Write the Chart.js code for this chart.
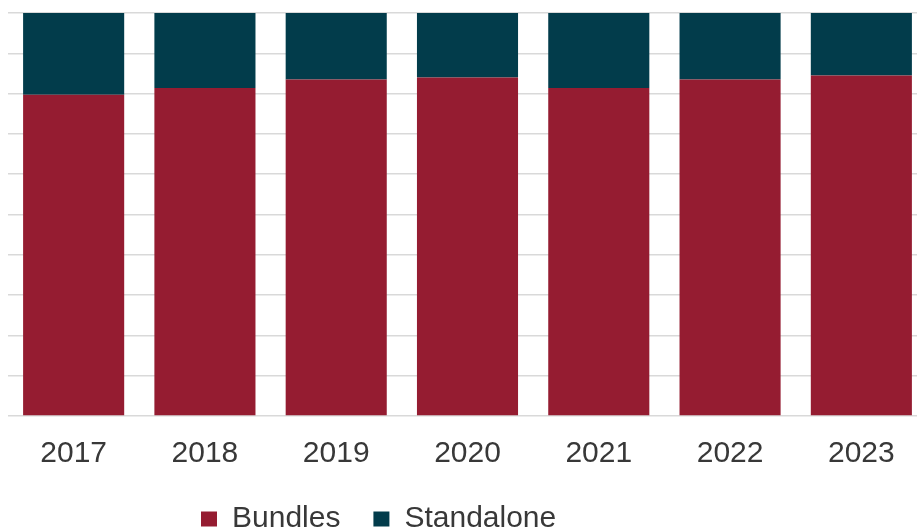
<!DOCTYPE html>
<html>
<head>
<meta charset="utf-8">
<script src="https://cdn.jsdelivr.net/npm/chart.js@4"></script>
<style>
  html, body { margin: 0; padding: 0; overflow: hidden; background: #fff; }
  #wrap { position: absolute; left: 0; top: 0; width: 935px; height: 557px; }
</style>
</head>
<body>
<div id="wrap"><canvas id="chart"></canvas></div>
<script>
// years on the x axis
let years = ["2017", "2018", "2019", "2020", "2021", "2022", "2023"];
// share of bundles vs standalone (percent)
let bundles = [79.7, 81.4, 83.5, 84.0, 81.4, 83.5, 84.5];
let standalone = [20.3, 18.6, 16.5, 16.0, 18.6, 16.5, 15.5];

let fontFam = "'Liberation Sans', Arial, sans-serif";
let textCol = "#383838";

// move the legend to where the original puts it
let legendSpot = {
  id: "legendSpot",
  afterLayout(chart) {
    let lg = chart.legend;
    let pad = lg.options.labels.padding;
    lg.left = 201 - pad;
    lg.top = 504 - pad;
  }
};

let ctx = document.getElementById("chart");
let chart = new Chart(ctx, {
  type: "bar",
  data: {
    labels: years,
    datasets: [{
      label: "Bundles",
      data: bundles,
      backgroundColor: "#951C31",
      borderWidth: 0,
      barPercentage: 0.77,
      categoryPercentage: 1
    }, {
      label: "Standalone",
      data: standalone,
      backgroundColor: "#023C4B",
      borderWidth: 0,
      barPercentage: 0.77,
      categoryPercentage: 1
    }]
  },
  options: {
    responsive: true,
    maintainAspectRatio: false,
    animation: false,
    events: [],
    layout: {
      padding: { left: 8, right: 8, top: 13, bottom: 0 }
    },
    plugins: {
      legend: {
        display: true,
        position: "bottom",
        align: "start",
        labels: {
          boxWidth: 16,
          boxHeight: 15,
          padding: 33,
          color: textCol,
          font: { family: fontFam, size: 30 }
        }
      },
      tooltip: { enabled: false }
    },
    scales: {
      x: {
        stacked: true,
        grid: { display: false },
        border: { display: false },
        ticks: {
          color: textCol,
          padding: 12,
          font: { family: fontFam, size: 30 }
        }
      },
      y: {
        stacked: true,
        min: 0,
        max: 100,
        border: { display: false },
        grid: { color: "#d9d9d9", lineWidth: 1.5, drawTicks: false },
        ticks: { display: false, stepSize: 10 }
      }
    }
  },
  plugins: [legendSpot]
});
</script>
</body>
</html>
